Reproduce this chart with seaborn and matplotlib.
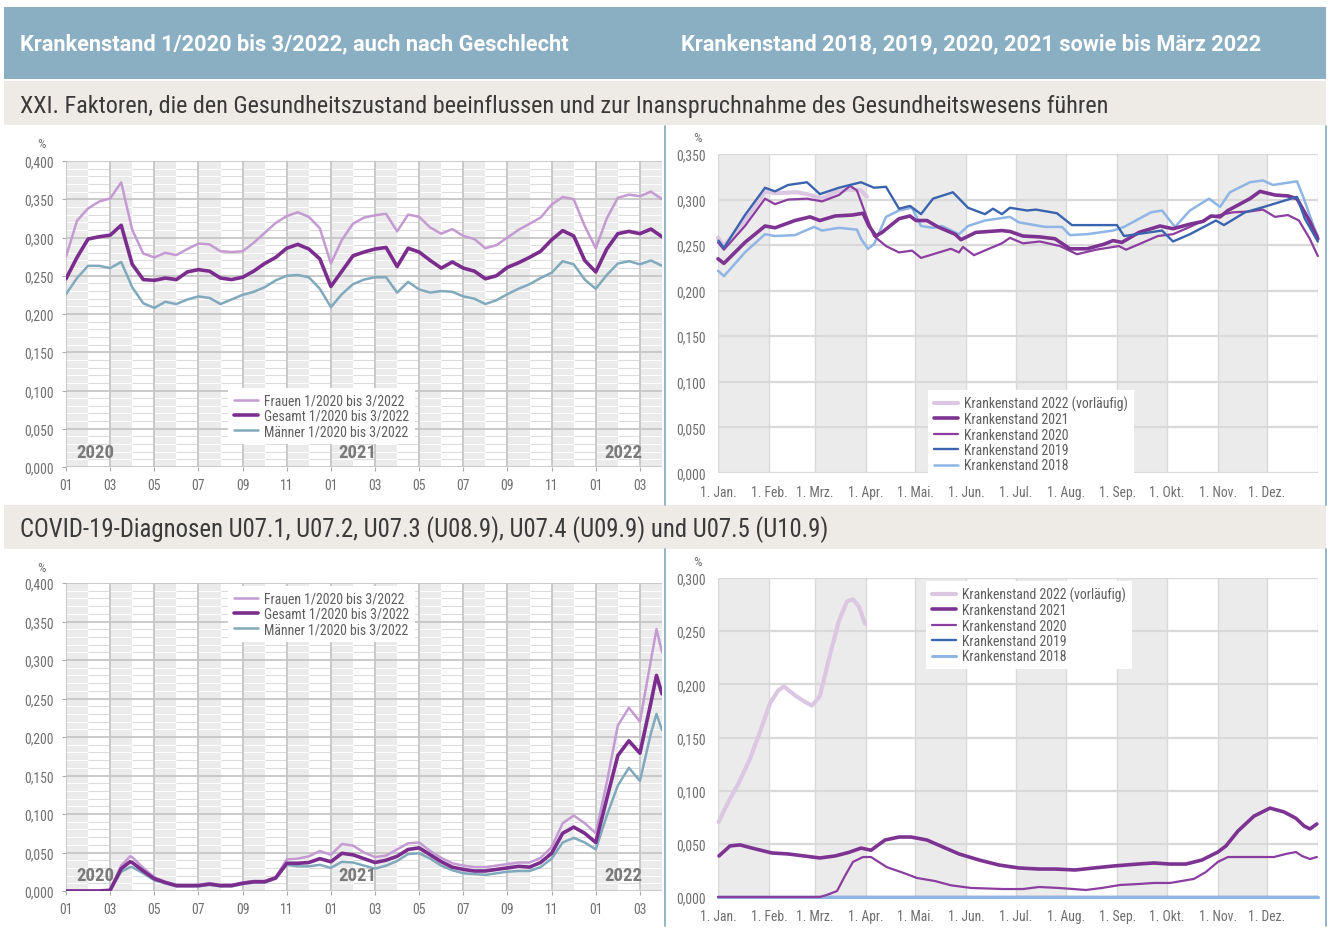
import numpy as np
import pandas as pd
import matplotlib
matplotlib.use("Agg")
import matplotlib.pyplot as plt
import seaborn as sns
from matplotlib import font_manager as fm
from matplotlib.patches import Rectangle
from matplotlib.lines import Line2D

# ---------------- data ----------------
# left panels: months since Jan 2020 (0 = 1 Jan 2020, 27 = end of Mar 2022)
months_top = list(np.arange(0, 27.01, 0.5))
frauen_top = [0.275,0.322,0.338,0.347,0.351,0.372,0.310,0.279,0.274,0.280,0.277,0.285,0.292,0.291,0.282,0.281,0.282,0.293,0.306,0.319,0.328,0.333,0.327,0.312,0.266,0.297,0.318,0.326,0.329,0.331,0.308,0.330,0.327,0.313,0.305,0.311,0.302,0.298,0.286,0.290,0.300,0.310,0.318,0.326,0.343,0.353,0.350,0.315,0.286,0.325,0.352,0.356,0.354,0.360,0.350]
gesamt_top = [0.246,0.274,0.298,0.301,0.303,0.316,0.265,0.245,0.244,0.247,0.245,0.255,0.258,0.256,0.247,0.245,0.248,0.256,0.266,0.274,0.286,0.291,0.285,0.272,0.236,0.256,0.276,0.281,0.285,0.287,0.262,0.286,0.281,0.270,0.260,0.268,0.260,0.256,0.246,0.250,0.261,0.267,0.274,0.282,0.297,0.309,0.302,0.270,0.255,0.285,0.305,0.308,0.305,0.311,0.301]
maenner_top = [0.226,0.247,0.263,0.263,0.260,0.268,0.235,0.214,0.208,0.216,0.213,0.219,0.223,0.221,0.213,0.219,0.225,0.229,0.235,0.244,0.250,0.251,0.248,0.233,0.209,0.226,0.239,0.245,0.248,0.248,0.228,0.242,0.232,0.228,0.230,0.229,0.223,0.220,0.213,0.218,0.226,0.233,0.239,0.247,0.254,0.269,0.265,0.245,0.233,0.251,0.266,0.269,0.265,0.270,0.263]

months_cov = [0, 0.5, 1, 1.5, 2, 2.5, 2.9] + list(np.arange(3, 26.51, 0.5)) + [26.75, 27]
frauen_cov = [0,0,0,0,0.001,0.033,0.045,0.044,0.030,0.018,0.012,0.008,0.007,0.008,0.010,0.008,0.008,0.011,0.013,0.013,0.018,0.041,0.042,0.045,0.052,0.047,0.061,0.059,0.050,0.044,0.046,0.054,0.062,0.063,0.052,0.043,0.036,0.033,0.031,0.031,0.033,0.035,0.037,0.037,0.043,0.057,0.088,0.098,0.088,0.075,0.141,0.215,0.238,0.220,0.300,0.340,0.310]
gesamt_cov = [0,0,0,0,0.001,0.029,0.038,0.037,0.026,0.016,0.011,0.007,0.007,0.007,0.009,0.007,0.007,0.010,0.012,0.012,0.017,0.036,0.036,0.037,0.042,0.038,0.049,0.047,0.042,0.037,0.040,0.045,0.054,0.056,0.047,0.038,0.031,0.028,0.026,0.026,0.028,0.030,0.032,0.031,0.037,0.049,0.075,0.083,0.075,0.063,0.120,0.176,0.195,0.179,0.245,0.280,0.256]
maenner_cov = [0,0,0,0,0.001,0.025,0.031,0.031,0.023,0.014,0.010,0.006,0.006,0.006,0.008,0.006,0.006,0.009,0.011,0.011,0.016,0.034,0.032,0.032,0.034,0.030,0.038,0.037,0.033,0.029,0.033,0.039,0.048,0.049,0.042,0.033,0.027,0.023,0.022,0.021,0.023,0.025,0.026,0.026,0.031,0.042,0.063,0.069,0.063,0.054,0.098,0.137,0.160,0.143,0.205,0.230,0.209]

# right panels: day of year
d2022_top = [0,3.6,16.4,28.6,34.7,48,54.1,63.3,71.2,79.1,87,90.6]
v2022_top = [0.258,0.249,0.277,0.309,0.307,0.308,0.306,0.301,0.308,0.311,0.310,0.303]
d2021_top = [0,3.6,16.4,28.6,34.7,46.8,56,62,71.2,81.5,88.2,91.8,96.1,99.8,110.1,116.8,120.4,127.1,133.8,144.2,147.8,156.9,172.7,177.6,185.5,195.9,205,214.1,224.5,234.8,240.3,245.7,256.1,268.9,276.8,287.1,295,299.9,305.4,310.2,323.6,329.7,338.8,346.7,352.2,360,364.9]
v2021_top = [0.235,0.230,0.253,0.271,0.269,0.277,0.281,0.277,0.282,0.283,0.285,0.271,0.260,0.264,0.279,0.282,0.277,0.277,0.270,0.262,0.256,0.264,0.266,0.265,0.260,0.259,0.257,0.246,0.246,0.251,0.255,0.253,0.264,0.271,0.268,0.273,0.276,0.282,0.281,0.288,0.301,0.309,0.305,0.304,0.301,0.276,0.257]
d2020_top = [0,3.6,16.4,28.6,34.7,42.6,54.1,63.3,73.6,80.3,84.5,89.4,94.9,102.2,110.1,118,123.5,130.8,141.7,146.6,149,155.7,164.8,172.7,177.6,185.5,195.9,208,218.4,229.9,243.9,248.2,256.1,267.6,276.8,287.1,299.9,313.3,323.6,331.5,338.8,346.7,353.4,360,364.9]
v2020_top = [0.253,0.245,0.271,0.301,0.295,0.300,0.301,0.298,0.305,0.315,0.310,0.286,0.260,0.249,0.242,0.244,0.236,0.240,0.246,0.242,0.248,0.239,0.246,0.252,0.258,0.252,0.254,0.249,0.240,0.245,0.249,0.245,0.251,0.260,0.262,0.270,0.281,0.286,0.287,0.289,0.281,0.283,0.277,0.257,0.238]
d2019_top = [0.3,3.6,16.4,28.6,34.7,42.6,54.1,62,73.6,87,94.9,102.2,110.1,116.8,123.5,130.8,142.9,152.1,162.4,167.3,172.7,177.6,188,193.4,206.2,215.3,242.7,247,270.1,276.8,287.1,302.9,307.8,320.6,334,343.1,352.2,357,364.9]
v2019_top = [0.255,0.247,0.283,0.313,0.309,0.316,0.319,0.306,0.313,0.319,0.313,0.314,0.290,0.293,0.284,0.301,0.308,0.291,0.284,0.290,0.284,0.291,0.288,0.289,0.285,0.272,0.272,0.260,0.266,0.254,0.262,0.277,0.272,0.286,0.293,0.298,0.303,0.279,0.254]
d2018_top = [0,3.6,16.4,28.6,34.7,46.8,58.4,63.3,73.6,84.5,87,91.2,94.9,102.2,110.1,118,123.5,130.8,136.3,146.6,152.1,162.4,177.6,183.1,198.9,209.2,214.1,224.5,240.3,247,263.4,270.1,278,287.1,298.7,305.4,311.4,323.6,331.5,337.6,352.2,355.8,362.5,364.9]
v2018_top = [0.222,0.216,0.242,0.262,0.260,0.261,0.270,0.266,0.269,0.267,0.257,0.246,0.251,0.281,0.288,0.291,0.271,0.269,0.271,0.262,0.271,0.277,0.281,0.275,0.270,0.270,0.261,0.262,0.266,0.270,0.286,0.288,0.270,0.288,0.301,0.292,0.308,0.319,0.321,0.316,0.320,0.304,0.270,0.260]

d2022_cov = [0.4,6.1,12.2,19.5,25.5,31.6,36.5,40.1,47.4,53.5,57.2,62,67.5,73.6,78.5,82.1,85.8,89.4]
v2022_cov = [0.0705,0.089,0.106,0.130,0.155,0.182,0.194,0.198,0.189,0.183,0.180,0.189,0.224,0.260,0.278,0.280,0.273,0.257]
d2021_cov = [0.6,7.3,13.4,20.7,32.8,42.6,52.3,62,71.2,79.7,87,93.1,101.6,110.1,117.4,127.1,136.9,146.6,158.8,170.9,183.1,195.3,205,217.2,228.7,240.9,255.5,265.2,275,284.7,294.4,304.1,309,316.3,326,335.8,344.3,351.6,356.5,360.1,364.3]
v2021_cov = [0.0386,0.048,0.049,0.046,0.0414,0.0405,0.0386,0.0367,0.0386,0.042,0.046,0.044,0.0536,0.0564,0.0564,0.0536,0.047,0.0405,0.0348,0.0301,0.0273,0.0263,0.0263,0.0254,0.0273,0.0292,0.031,0.032,0.031,0.031,0.0348,0.0423,0.048,0.062,0.076,0.0836,0.080,0.074,0.0668,0.064,0.0687]
d2020_cov = [0,62,66.3,72.4,77.3,82.1,88.2,93.1,102.8,111.3,121,132,141.7,153.9,173.4,185.5,195.3,207.4,223.8,233.6,244.5,255.5,265.2,275,289.5,296.8,304.1,310.2,323.6,338.2,345.5,351.6,355.2,360.1,364.3]
v2020_cov = [0,0,0.002,0.0056,0.020,0.033,0.0376,0.0376,0.028,0.0235,0.0179,0.015,0.011,0.0085,0.0075,0.0075,0.0094,0.0085,0.0066,0.0085,0.0113,0.0122,0.0132,0.0132,0.017,0.0235,0.033,0.0376,0.0376,0.0376,0.0405,0.0423,0.0386,0.0357,0.0376]
d2019_cov = [0, 182, 364.9]
v2019_cov = [0, 0, 0]
d2018_cov = [0, 182, 364.9]
v2018_cov = [0, 0, 0]

left_xticklabels = ["01","03","05","07","09","11","01","03","05","07","09","11","01","03"]
right_xticklabels = ["1. Jan.","1. Feb.","1. Mrz.","1. Apr.","1. Mai.","1. Jun.","1. Jul.","1. Aug.","1. Sep.","1. Okt.","1. Nov.","1. Dez."]
month_starts = [0,31,59,90,120,151,181,212,243,273,304,334,365]
years = ["2020", "2021", "2022"]

header_left = "Krankenstand 1/2020 bis 3/2022, auch nach Geschlecht"
header_right = "Krankenstand 2018, 2019, 2020, 2021 sowie bis März 2022"
section1 = "XXI. Faktoren, die den Gesundheitszustand beeinflussen und zur Inanspruchnahme des Gesundheitswesens führen"
section2 = "COVID-19-Diagnosen U07.1, U07.2, U07.3 (U08.9), U07.4 (U09.9) und U07.5 (U10.9)"
lab_f = "Frauen 1/2020 bis 3/2022"
lab_g = "Gesamt 1/2020 bis 3/2022"
lab_m = "Männer 1/2020 bis 3/2022"
lab_years = ["Krankenstand 2022 (vorläufig)", "Krankenstand 2021", "Krankenstand 2020",
             "Krankenstand 2019", "Krankenstand 2018"]

# ---------------- style ----------------
sns.set_theme(style="white")
avail = {f.name for f in fm.fontManager.ttflist}
FONT = "DejaVu Sans"
for cand in ["Roboto Condensed", "Liberation Sans Narrow", "Open Sans Condensed", "Roboto", "Open Sans"]:
    if cand in avail:
        FONT = cand
        break
HFONT = "Roboto" if "Roboto" in avail else FONT
plt.rcParams["font.family"] = [FONT, "DejaVu Sans"]

C_HEAD = "#8AAFC2"
C_BAND = "#EEEBE6"
C_F = "#C49AD2"
C_G = "#7B2D8E"
C_M = "#80A9BC"
C_22 = "#DCC7E2"
C_21 = "#7D3391"
C_20 = "#8B3E9F"
C_19 = "#3B64AF"
C_18 = "#8EB5E3"
C_TXT = "#6E6E6E"

W, H = 1330, 929
fig = plt.figure(figsize=(W / 100, H / 100), dpi=100)
fig.patch.set_facecolor("white")
renderer = fig.canvas.get_renderer()


def px_rect(x0, y0, x1, y1, color):
    fig.add_artist(Rectangle((x0 / W, 1 - y1 / H), (x1 - x0) / W, (y1 - y0) / H,
                             transform=fig.transFigure, color=color, lw=0, zorder=0))


def px_vline(x, y0, y1, color, lw):
    fig.add_artist(Line2D([x / W, x / W], [1 - y0 / H, 1 - y1 / H],
                          transform=fig.transFigure, color=color, lw=lw))


def fit_text(s, x0, x1, yc, color, weight, size, family=None):
    fam = [family, "DejaVu Sans"] if family else [FONT, "DejaVu Sans"]
    t = fig.text(x0 / W, 1 - yc / H, s, ha="left", va="center", fontsize=size,
                 color=color, fontweight=weight, family=fam)
    bb = t.get_window_extent(renderer)
    t.set_fontsize(size * (x1 - x0) / bb.width)
    return t


def axes_px(x0, y0, x1, y1):
    return fig.add_axes([x0 / W, 1 - y1 / H, (x1 - x0) / W, (y1 - y0) / H])


# bands
px_rect(4, 8, 1326, 80, C_HEAD)
px_rect(4, 82, 1326, 126, C_BAND)
px_rect(4, 506, 1326, 550, C_BAND)
fit_text(header_left, 20, 571, 44, "white", "bold", 14, HFONT)
fit_text(header_right, 681, 1264, 44, "white", "bold", 14, HFONT)
fit_text(section1, 20, 1116, 106, "#3A3A3A", "normal", 16)
fit_text(section2, 20, 831, 530, "#3A3A3A", "normal", 16)
for x in (665, 1326):
    px_vline(x, 127, 506, C_HEAD, 1.3)
    px_vline(x, 550, 927, C_HEAD, 1.3)


def fmt(v):
    return f"{v:.3f}".replace(".", ",")


def left_panel(ax, ymax):
    for m in range(0, 27, 2):
        ax.axvspan(m, m + 1, color="#EBEBEB", lw=0, zorder=0)
    minor = [v for v in np.arange(0.01, ymax, 0.01) if abs(v / 0.05 - round(v / 0.05)) > 1e-6]
    ax.hlines(minor, 0, 27, color="#DCDCDC", lw=0.8, zorder=0.2)
    for m in range(0, 27, 2):
        ax.hlines(minor, m, m + 1, color="white", lw=0.8, zorder=0.3)
    major = np.arange(0, ymax + 1e-9, 0.05)
    ax.hlines(major, 0, 27, color="#C6C6C6", lw=1.3, zorder=0.4)
    ax.vlines(range(0, 27, 2), 0, ymax, color="#C6C6C6", lw=1.3, zorder=0.4)
    ax.set_xlim(0, 27)
    ax.set_ylim(0, ymax)
    ax.set_yticks(major)
    ax.set_yticklabels([fmt(v) for v in major])
    ax.set_xticks(range(0, 27, 2))
    ax.set_xticklabels(left_xticklabels)
    ax.tick_params(axis="both", colors="#AAAAAA", labelcolor=C_TXT, labelsize=9.8,
                   length=3, width=0.8, direction="out")
    ax.tick_params(axis="x", pad=5, bottom=True)
    ax.tick_params(axis="y", pad=6, left=True)
    for s in ax.spines.values():
        s.set_visible(False)
    ax.set_xlabel("")
    ax.set_ylabel("")


def right_panel(ax, ymax):
    for i in range(0, 12, 2):
        ax.axvspan(month_starts[i], month_starts[i + 1], color="#EBEBEB", lw=0, zorder=0)
    ax.vlines(month_starts, 0, ymax, color="#D9D9D9", lw=1.0, zorder=0.3)
    major = np.arange(0, ymax + 1e-9, 0.05)
    ax.hlines(major, 0, 365, color="#D9D9D9", lw=1.6, zorder=0.4)
    ax.set_xlim(0, 365)
    ax.set_ylim(0, ymax)
    ax.set_yticks(major)
    ax.set_yticklabels([fmt(v) for v in major])
    ax.set_xticks(month_starts[:12])
    ax.set_xticklabels(right_xticklabels)
    ax.tick_params(axis="both", labelcolor=C_TXT, labelsize=9.8, length=0)
    ax.tick_params(axis="x", pad=9)
    ax.tick_params(axis="y", pad=9)
    for s in ax.spines.values():
        s.set_visible(False)
    ax.set_xlabel("")
    ax.set_ylabel("")


def legend(ax, order, fx, fy):
    h, l = ax.get_legend_handles_labels()
    d = dict(zip(l, h))
    lg = ax.legend([d[k] for k in order], order, loc="upper left",
                   bbox_to_anchor=(fx / W, 1 - fy / H), bbox_transform=fig.transFigure,
                   frameon=True, facecolor="white", edgecolor="none", fancybox=False,
                   framealpha=1, fontsize=9.9, handlelength=1.8, handletextpad=0.45,
                   labelspacing=0.1, borderpad=0.4, borderaxespad=0)
    for t in lg.get_texts():
        t.set_color("#5E5E5E")
    lg.set_zorder(5)


# ---------- top left ----------
ax1 = axes_px(66, 162, 662, 468)
left_panel(ax1, 0.4)
sns.lineplot(x=months_top, y=frauen_top, ax=ax1, color=C_F, lw=1.8, label=lab_f)
sns.lineplot(x=months_top, y=maenner_top, ax=ax1, color=C_M, lw=1.8, label=lab_m)
sns.lineplot(x=months_top, y=gesamt_top, ax=ax1, color=C_G, lw=2.6, label=lab_g)
legend(ax1, [lab_f, lab_g, lab_m], 228, 389)

# ---------- bottom left ----------
ax3 = axes_px(66, 584, 662, 892)
left_panel(ax3, 0.4)
sns.lineplot(x=months_cov, y=frauen_cov, ax=ax3, color=C_F, lw=1.8, label=lab_f)
sns.lineplot(x=months_cov, y=maenner_cov, ax=ax3, color=C_M, lw=1.8, label=lab_m)
sns.lineplot(x=months_cov, y=gesamt_cov, ax=ax3, color=C_G, lw=2.6, label=lab_g)
legend(ax3, [lab_f, lab_g, lab_m], 228, 587)

for ax, yv in ((ax1, 0.0195), (ax3, 0.0205)):
    for xm, yr in zip([1.31, 13.2, 25.25], years):
        ax.text(xm, yv, yr, ha="center", va="center", fontsize=13.5, fontweight="bold",
                color="#7A7A7A", zorder=6)

# ---------- top right ----------
ax2 = axes_px(718, 155, 1318, 474)
right_panel(ax2, 0.35)
sns.lineplot(x=d2022_top, y=v2022_top, ax=ax2, color=C_22, lw=3.0, label=lab_years[0])
sns.lineplot(x=d2018_top, y=v2018_top, ax=ax2, color=C_18, lw=1.8, label=lab_years[4])
sns.lineplot(x=d2020_top, y=v2020_top, ax=ax2, color=C_20, lw=1.6, label=lab_years[2])
sns.lineplot(x=d2021_top, y=v2021_top, ax=ax2, color=C_21, lw=2.6, label=lab_years[1])
sns.lineplot(x=d2019_top, y=v2019_top, ax=ax2, color=C_19, lw=1.7, label=lab_years[3])
legend(ax2, lab_years, 928, 391)

# ---------- bottom right ----------
ax4 = axes_px(718, 579, 1318, 898)
right_panel(ax4, 0.30)
sns.lineplot(x=d2022_cov, y=v2022_cov, ax=ax4, color=C_22, lw=3.0, label=lab_years[0])
sns.lineplot(x=d2019_cov, y=v2019_cov, ax=ax4, color=C_19, lw=1.7, label=lab_years[3])
sns.lineplot(x=d2018_cov, y=v2018_cov, ax=ax4, color=C_18, lw=2.2, label=lab_years[4])
sns.lineplot(x=d2020_cov, y=v2020_cov, ax=ax4, color=C_20, lw=1.6, label=lab_years[2])
sns.lineplot(x=d2021_cov, y=v2021_cov, ax=ax4, color=C_21, lw=2.6, label=lab_years[1])
legend(ax4, lab_years, 926, 582)
for ax in (ax2, ax4):
    for ln in ax.get_lines():
        ln.set_clip_on(False)

# "%" labels
for x, y in ((42, 145), (697, 139), (42, 569), (697, 562)):
    fig.text(x / W, 1 - y / H, "%", ha="center", va="center", fontsize=9.5, color=C_TXT)

fig.savefig("out.png", dpi=100)
